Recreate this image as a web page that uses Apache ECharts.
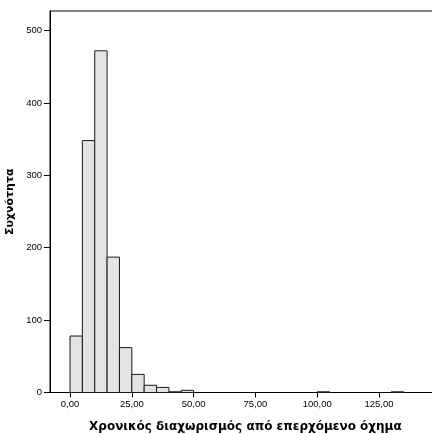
<!DOCTYPE html>
<html>
<head>
<meta charset="utf-8">
<script src="https://cdn.jsdelivr.net/npm/echarts@6/dist/echarts.min.js"></script>
<style>
  html, body { margin: 0; padding: 0; background: #fff; }
  #chart { width: 432px; height: 434px; }
</style>
</head>
<body>
<div id="chart"></div>
<script>
// Histogram of time headway to the following vehicle (bin width 5)
const binStarts = [0, 5, 10, 15, 20, 25, 30, 35, 40, 45, 100, 130];
const binCounts = [78, 348, 472, 187, 62, 25, 10, 7, 1, 3, 1, 1];
const binWidth = 5;
const xTicks = [0, 25, 50, 75, 100, 125];
const yTicks = [0, 100, 200, 300, 400, 500];
const xTitle = 'Χρονικός διαχωρισμός από επερχόμενο όχημα';
const yTitle = 'Συχνότητα';

const data = binStarts.map((s, i) => [s, s + binWidth, binCounts[i]]);

const chart = echarts.init(document.getElementById('chart'), null, { renderer: 'canvas' });
const labelFont = { fontFamily: 'Liberation Sans, Arial, sans-serif', fontSize: 9.5, color: '#000' };
const titleFont = { fontFamily: 'DejaVu Sans, sans-serif', fontSize: 12, fontWeight: 'bold', color: '#000' };

chart.setOption({
  animation: false,
  grid: {
    left: 50, top: 11, right: -8.8, bottom: 41.5,
    outerBoundsMode: 'none', containLabel: false,
    show: true, borderColor: '#000', borderWidth: 1, backgroundColor: 'transparent'
  },
  xAxis: {
    type: 'value', min: -8.1, max: 150,
    splitLine: { show: false },
    axisLine: { show: true, onZero: false, lineStyle: { color: '#000', width: 1 } },
    axisTick: { show: true, length: 5, customValues: xTicks, lineStyle: { color: '#000' } },
    axisLabel: Object.assign({
      customValues: xTicks, margin: 7,
      formatter: v => v.toFixed(2).replace('.', ',')
    }, labelFont),
    name: xTitle, nameLocation: 'middle', nameGap: 28,
    nameTextStyle: titleFont
  },
  yAxis: {
    type: 'value', min: 0, max: 527,
    splitLine: { show: false },
    axisLine: { show: true, onZero: false, lineStyle: { color: '#000', width: 1 } },
    axisTick: { show: true, length: 6, customValues: yTicks, lineStyle: { color: '#000' } },
    axisLabel: Object.assign({ customValues: yTicks, margin: 8 }, labelFont),
    name: yTitle, nameLocation: 'middle', nameGap: 33,
    nameTextStyle: Object.assign({}, titleFont, { fontSize: 11 })
  },
  series: [{
    type: 'custom',
    data: data,
    encode: { x: [0, 1], y: 2 },
    renderItem: function (params, api) {
      const p0 = api.coord([api.value(0), api.value(2)]);
      const p1 = api.coord([api.value(1), 0]);
      return {
        type: 'rect',
        shape: { x: p0[0], y: p0[1], width: p1[0] - p0[0], height: p1[1] - p0[1] },
        style: { fill: '#e3e3e3', stroke: '#1a1a1a', lineWidth: 1 }
      };
    }
  }]
});
</script>
</body>
</html>
